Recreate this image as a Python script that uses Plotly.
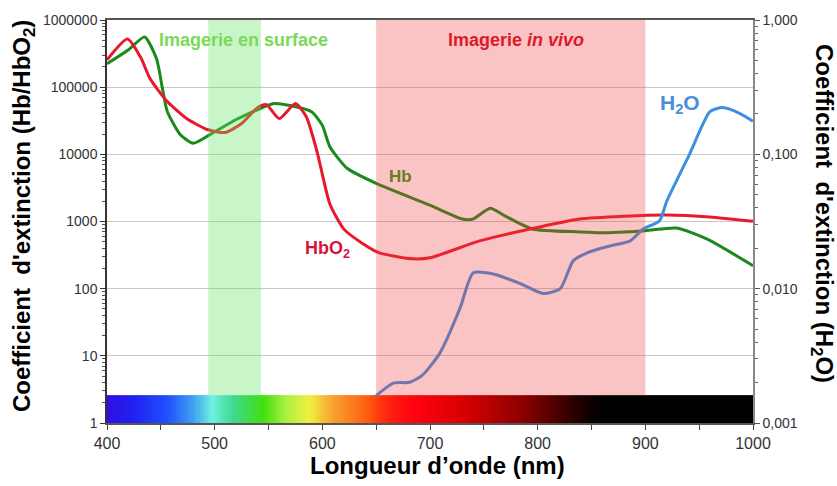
import numpy as np
import plotly.graph_objects as go

# ---------------- data ----------------
hb_wl = [400, 420, 435, 446, 452, 456, 468, 480, 496, 520, 540, 555, 570, 590, 600, 607,
         623, 650, 700, 730, 740, 756, 770, 795, 839, 858, 900, 929, 957, 1000]
hb_val = [223000, 360000, 560000, 264000, 86000, 43400, 19800, 14600, 19800, 33000, 46400,
          57000, 53200, 43000, 27000, 13000, 6200, 3700, 1750, 1090, 1090, 1580, 1200, 775,
          700, 680, 730, 800, 550, 220]

hbo2_wl = [400, 419, 431, 440, 456, 474, 493, 510, 525, 540, 548, 560, 575, 585, 595, 607,
           620, 638, 653, 684, 700, 746, 793, 839, 880, 920, 960, 1000]
hbo2_val = [255000, 523000, 283000, 134000, 61000, 34100, 23400, 21200, 28800, 49700, 55000,
            34100, 57000, 36500, 11100, 1820, 770, 464, 341, 278, 288, 514, 774, 1090, 1200,
            1250, 1170, 1010]

h2o_wl = [650, 666, 681, 693, 709, 728, 740, 758, 784, 805, 821, 833, 846, 867, 886, 898,
          913, 920, 941, 960, 972, 988, 1000]
h2o_val = [0.0016, 0.00198, 0.00201, 0.00227, 0.0033, 0.0072, 0.0131, 0.0129, 0.0109, 0.0092,
           0.0100, 0.0161, 0.0185, 0.0208, 0.0227, 0.0278, 0.0319, 0.045, 0.100, 0.208, 0.223,
           0.201, 0.176]

# visible spectrum bar colours
spec_wl = [400, 424, 456, 480, 498, 517, 545, 567, 588, 610, 641, 656, 672, 690, 737, 783,
           823, 851, 865, 1000]
spec_col = ['#3010e0', '#2020f0', '#2050ff', '#40a0f0', '#70f0e0', '#40d890', '#40e010',
            '#b0f040', '#f0f040', '#f8a030', '#ff6010', '#ff3010', '#ff1010', '#ff0010',
            '#d00000', '#900000', '#400000', '#0a0000', '#000000', '#000000']
spec_top = 2.6

# axis ticks
x_ticks = [400, 500, 600, 700, 800, 900, 1000]
y_ticks = [1, 10, 100, 1000, 10000, 100000, 1000000]
y_ticktext = ['1', '10', '100', '1000', '10000', '100000', '1000000']
y2_ticks = [0.001, 0.01, 0.1, 1]
y2_ticktext = ['0,001', '0,010', '0,100', '1,000']

# imaging windows (nm)
surface_band = [494, 543]
vivo_band = [650, 900]

FONT = 'Arial, Liberation Sans, sans-serif'

fig = go.Figure()

# spectrum bar
xs = np.arange(401, 1000, 2)
cs = [[(w - 400) / 600, c] for w, c in zip(spec_wl, spec_col)]
fig.add_trace(go.Heatmap(x=xs, y=[1, spec_top], z=[list(xs)], colorscale=cs,
                         zmin=400, zmax=1000, showscale=False, hoverinfo='skip'))

fig.add_trace(go.Scatter(x=hb_wl, y=hb_val, mode='lines', name='Hb',
                         line=dict(color='#1a8a1a', width=3, shape='spline', smoothing=0.6)))
fig.add_trace(go.Scatter(x=hbo2_wl, y=hbo2_val, mode='lines', name='HbO2',
                         line=dict(color='#e8192c', width=3, shape='spline', smoothing=0.6)))
fig.add_trace(go.Scatter(x=h2o_wl, y=h2o_val, mode='lines', name='H2O', yaxis='y2',
                         line=dict(color='#3d8fe0', width=3, shape='spline', smoothing=0.6)))

bar_top_paper = np.log10(spec_top) / 6
fig.add_shape(type='rect', xref='x', yref='paper', x0=surface_band[0], x1=surface_band[1],
              y0=bar_top_paper, y1=1, fillcolor='rgba(100,230,100,0.35)', line_width=0,
              layer='above')
fig.add_shape(type='rect', xref='x', yref='paper', x0=vivo_band[0], x1=vivo_band[1],
              y0=bar_top_paper, y1=1, fillcolor='rgba(240,60,60,0.30)', line_width=0,
              layer='above')

minor_left = [m * 10 ** k for k in range(0, 6) for m in range(2, 10)]
minor_right = [m * 10 ** k for k in range(-3, 0) for m in range(2, 10)]

fig.update_layout(
    width=837, height=486,
    margin=dict(l=107, r=84, t=18, b=63),
    plot_bgcolor='white', paper_bgcolor='white',
    showlegend=False,
    font=dict(family=FONT, color='#333'),
    xaxis=dict(range=[400, 1000], tickvals=x_ticks, ticks='outside', ticklen=5,
               tickcolor='#444', tickfont=dict(size=16, color='#333'),
               showline=True, linecolor='#555', linewidth=1.5, mirror=True,
               showgrid=False, zeroline=False,
               minor=dict(dtick=50, ticks='outside', ticklen=5, tickcolor='#444')),
    yaxis=dict(type='log', range=[0, 6], tickvals=y_ticks, ticktext=y_ticktext,
               ticks='outside', ticklen=5, tickcolor='#333',
               tickfont=dict(size=14, color='#333'),
               showline=True, linecolor='#333', linewidth=1.5,
               showgrid=True, gridcolor='#c8c8c8', gridwidth=1, zeroline=False,
               minor=dict(tickvals=minor_left, ticks='outside', ticklen=3,
                          tickcolor='#555', showgrid=False)),
    yaxis2=dict(type='log', range=[-3, 0], overlaying='y', side='right', anchor='x',
                tickvals=y2_ticks, ticktext=y2_ticktext, ticks='outside', ticklen=5,
                tickcolor='#555', tickfont=dict(size=14, color='#333'),
                showline=True, linecolor='#888', linewidth=1.5, showgrid=False,
                zeroline=False,
                minor=dict(tickvals=minor_right, ticks='outside', ticklen=3,
                           tickcolor='#666', showgrid=False)),
)

# axis titles
fig.add_annotation(xref='paper', yref='paper', x=(23 - 107) / 646, y=(423 - 215) / 405,
                   xanchor='center', yanchor='middle',
                   text="<b>Coefficient&nbsp; d'extinction (Hb/HbO<sub>2</sub>)</b>",
                   textangle=-90, showarrow=False, font=dict(size=24, color='black'))
fig.add_annotation(xref='paper', yref='paper', x=(823 - 107) / 646, y=(423 - 212) / 405,
                   xanchor='center', yanchor='middle',
                   text="<b>Coefficient&nbsp; d'extinction (H<sub>2</sub>O)</b>",
                   textangle=90, showarrow=False, font=dict(size=24, color='black'))
fig.add_annotation(xref='paper', yref='paper', x=(437 - 107) / 646, y=(423 - 466) / 405,
                   xanchor='center', yanchor='middle',
                   text="<b>Longueur d’onde (nm)</b>", showarrow=False,
                   font=dict(size=24, color='black'))

# in-plot labels (x: nm, y: left-axis value)
labels = [
    ('<b>Imagerie en surface</b>', 527, 500000, '#7ad957', 18),
    ('<b>Imagerie <i>in vivo</i></b>', 780, 500000, '#e0182a', 18),
    ('<b>Hb</b>', 673, 4700, '#6b7a1a', 17),
    ('<b>HbO<sub>2</sub></b>', 605, 380, '#d4143c', 18),
    ('<b>H<sub>2</sub>O</b>', 932, 57000, '#4a90d9', 21),
]
for txt, lx, ly, col, sz in labels:
    fig.add_annotation(x=lx, y=np.log10(ly), xref='x', yref='y', text=txt, showarrow=False,
                       font=dict(size=sz, color=col))

fig.write_html('out.html')
